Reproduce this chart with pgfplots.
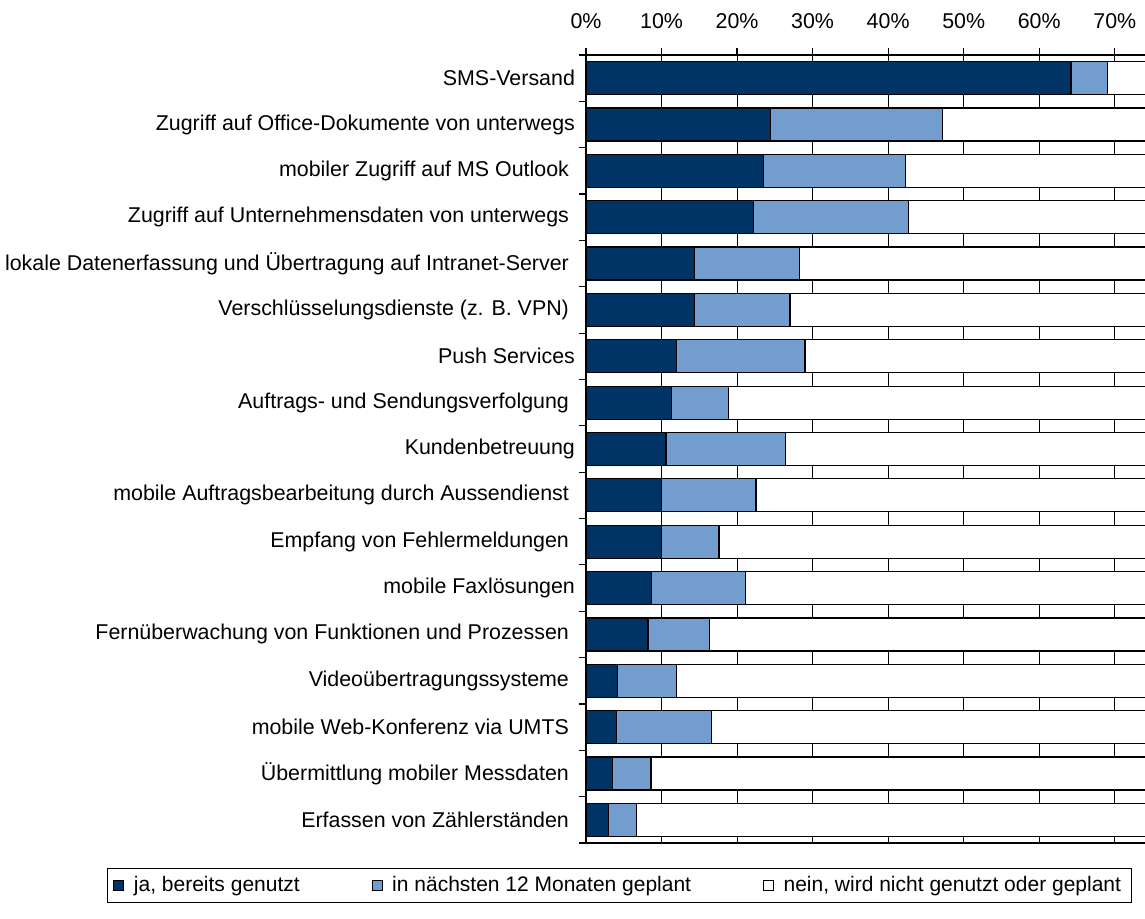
\documentclass[border=0pt]{standalone}
\usepackage{fontspec}
\setmainfont{Liberation Sans}
\usepackage{pgfplots}
\usepackage{pgfplotstable}
\pgfplotsset{compat=1.18}
\usetikzlibrary{calc}
\definecolor{dunkel}{RGB}{0,51,102}
\definecolor{hell}{RGB}{115,157,206}
\newcommand{\tsp}{\rule{0.28em}{0pt}}

% Anteile in Prozent (100 % gestapelt, Achse bei ca. 74 % abgeschnitten)
\pgfplotstableread{
y ja plan nein
0 64.2 4.8 31.0
1 24.4 22.8 52.8
2 23.5 18.8 57.7
3 22.2 20.5 57.3
4 14.4 13.9 71.7
5 14.4 12.6 73.0
6 12.0 17.0 71.0
7 11.3 7.6 81.1
8 10.6 15.8 73.6
9 10.0 12.5 77.5
10 10.0 7.6 82.4
11 8.7 12.4 78.9
12 8.2 8.2 83.6
13 4.2 7.8 88.0
14 4.0 12.6 83.4
15 3.5 5.1 91.4
16 3.0 3.7 93.3
}\data

\begin{document}
\begin{tikzpicture}
\begin{axis}[
name=ax,
scale only axis,width=279.5pt,height=394pt,
xbar stacked,bar width=16.5pt,
xmin=0,xmax=74,
ymin=-0.5,ymax=16.5,y dir=reverse,
axis x line=box,axis y line=left,
axis line style={-,line width=0.6pt},
font=\fontsize{10.7}{13}\selectfont,
xtick={0,10,...,70},xtick pos=right,xticklabel pos=right,
xticklabel={\pgfmathprintnumber[assume math mode=true]{\tick}\%},
xticklabel style={yshift=6pt},
tick align=outside,major tick length=3.5pt,
tick style={black,line width=0.6pt},
xmajorgrids,grid style={black,line width=0.5pt},
ytick={-0.5,0.5,...,16.5},yticklabels={},
extra y ticks={0,...,16},
extra y tick style={major tick length=0pt,yticklabel style={xshift=-2pt}},
extra y tick labels={
SMS-Versand,
Zugriff auf Office-Dokumente von unterwegs,
mobiler Zugriff auf MS Outlook\tsp,
Zugriff auf Unternehmensdaten von unterwegs\tsp,
lokale Datenerfassung und Übertragung auf Intranet-Server\tsp,
Verschlüsselungsdienste (z. B. VPN)\tsp,
Push Services,
Auftrags- und Sendungsverfolgung\tsp,
Kundenbetreuung,
mobile Auftragsbearbeitung durch Aussendienst\tsp,
Empfang von Fehlermeldungen\tsp,
mobile Faxlösungen,
Fernüberwachung von Funktionen und Prozessen\tsp,
Videoübertragungssysteme\tsp,
mobile Web-Konferenz via UMTS\tsp,
Übermittlung mobiler Messdaten\tsp,
Erfassen von Zählerständen\tsp},
legend columns=3,
legend style={at={(axis description cs:0,0)},anchor=north west,
  xshift=-239.5pt,yshift=-12.5pt,draw=black,line width=0.5pt,
  font=\fontsize{10.5}{13}\selectfont,
  /tikz/every even column/.append style={column sep=34pt}},
legend image code/.code={\draw[#1,line width=0.5pt] (0pt,-2.5pt) rectangle (5pt,2.5pt);\path[draw=none,fill=none] (0pt,0pt) (8pt,0pt);},
]
\addplot[fill=dunkel,draw=black,line width=0.6pt] table[x=ja,y=y]{\data};
\addplot[fill=hell,draw=black,line width=0.6pt] table[x=plan,y=y]{\data};
\addplot[fill=white,draw=black,line width=0.6pt] table[x=nein,y=y]{\data};
\legend{{ja, bereits genutzt},{in nächsten 12 Monaten geplant},{nein, wird nicht genutzt oder geplant}}
\end{axis}
\pgfresetboundingbox
\path ($(ax.south west)+(-293pt,-38pt)$) rectangle ($(ax.north east)+(0pt,27.5pt)$);
\end{tikzpicture}
\end{document}
